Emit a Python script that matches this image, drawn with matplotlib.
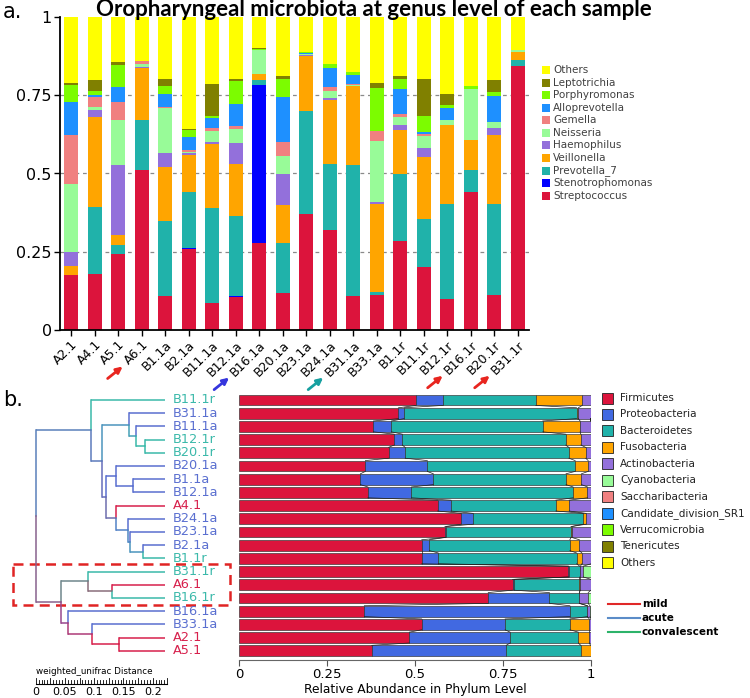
import matplotlib
matplotlib.use("Agg")
import matplotlib.pyplot as plt
import numpy as np
from matplotlib.patches import Rectangle
from matplotlib.colors import to_rgb

W, H = 750, 698

# ---------------- panel a: genus level, one bar per sample ----------------
samples_a = ["A2.1", "A4.1", "A5.1", "A6.1", "B1.1a", "B2.1a", "B11.1a", "B12.1a", "B16.1a",
             "B20.1a", "B23.1a", "B24.1a", "B31.1a", "B33.1a", "B1.1r", "B11.1r", "B12.1r",
             "B16.1r", "B20.1r", "B31.1r"]
genera = ["Streptococcus", "Stenotrophomonas", "Prevotella_7", "Veillonella", "Haemophilus",
          "Neisseria", "Gemella", "Alloprevotella", "Porphyromonas", "Leptotrichia", "Others"]
genus_colors = ["#dc143c", "#0000ff", "#20b2aa", "#ffa500", "#9370db", "#98fb98",
                "#f08080", "#1e90ff", "#7cfc00", "#808000", "#ffff00"]

streptococcus = [.176, .179, .242, .510, .109, .258, .085, .107, .279, .117, .371, .320, .110, .112, .284, .200, .099, .442, .113, .845]
stenotrophomonas = [0, 0, 0, 0, 0, .004, 0, .003, .505, 0, 0, 0, 0, 0, 0, 0, 0, 0, 0, 0]
prevotella_7 = [0, .215, .030, .160, .240, .178, .304, .255, .016, .162, .330, .211, .416, .011, .213, .155, .304, .068, .290, .019]
veillonella = [.030, .288, .032, .167, .173, .120, .206, .166, .019, .121, .175, .205, .252, .280, .143, .199, .253, .096, .221, .024]
haemophilus = [.044, .022, .224, .004, .045, .005, .005, .066, 0, .098, .002, .005, .002, .007, .016, .027, 0, 0, .021, 0]
neisseria = [.217, .010, .142, .008, .141, .005, .036, .045, .077, .058, .004, .021, .003, .195, .024, .039, .016, .165, .018, .005]
gemella = [.157, .032, .060, .010, .006, .005, .009, .010, 0, .046, 0, .014, .003, .032, .010, .005, 0, 0, 0, 0]
alloprevotella = [.106, .004, .046, 0, .040, .043, .031, .071, 0, .142, .002, .061, .030, 0, .080, .009, .037, 0, .085, 0]
porphyromonas = [.054, .015, .072, .002, .026, .020, .007, .073, .002, .059, .003, .014, .008, .135, .033, .050, .009, .007, .013, 0]
leptotrichia = [.006, .035, .007, 0, .023, .005, .103, .007, .004, .009, 0, 0, 0, .016, .009, .119, .036, 0, .039, 0]
others_a = [.210, .200, .145, .139, .197, .357, .214, .197, .098, .188, .113, .149, .176, .212, .188, .197, .246, .222, .200, .107]

# samples marked with an arrow under panel a
arrow_samples = ["A6.1", "B16.1a", "B31.1a", "B16.1r", "B31.1r"]
arrow_colors = ["#e8251f", "#3535dd", "#17a0a0", "#e8251f", "#e8251f"]

# ---------------- panel b: phylum level, rows in dendrogram order ----------------
rows_b = ["B11.1r", "B31.1a", "B11.1a", "B12.1r", "B20.1r", "B20.1a", "B1.1a", "B12.1a", "A4.1",
          "B24.1a", "B23.1a", "B2.1a", "B1.1r", "B31.1r", "A6.1", "B16.1r", "B16.1a", "B33.1a",
          "A2.1", "A5.1"]
phyla = ["Firmicutes", "Proteobacteria", "Bacteroidetes", "Fusobacteria", "Actinobacteria",
         "Cyanobacteria", "Saccharibacteria", "Candidate_division_SR1", "Verrucomicrobia",
         "Tenericutes", "Others"]
phylum_colors = ["#dc143c", "#4169e1", "#20b2aa", "#ffa500", "#9370db", "#98fb98",
                 "#f08080", "#1e90ff", "#7cfc00", "#808000", "#ffff00"]

firmicutes = [.503, .453, .382, .441, .425, .359, .345, .366, .564, .631, .585, .519, .519, .935, .777, .708, .356, .519, .484, .377]
proteobacteria = [.077, .016, .051, .023, .047, .176, .207, .124, .038, .034, .003, .022, .047, .002, .005, .174, .584, .237, .286, .382]
bacteroidetes = [.263, .490, .430, .464, .465, .420, .377, .459, .298, .313, .355, .399, .393, .031, .185, .085, .050, .184, .194, .212]
fusobacteria = [.132, .005, .106, .043, .048, .037, .044, .041, .038, .008, .002, .027, .015, .002, .003, 0, 0, .055, .031, .028]
actinobacteria = [.024, .035, .031, .029, .015, .008, .027, .010, .062, .014, .055, .033, .026, .008, .030, .025, .007, .005, .005, .001]
cyanobacteria = [0, 0, 0, 0, 0, 0, 0, 0, 0, 0, 0, 0, 0, .022, 0, .008, .003, 0, 0, 0]
saccharibacteria = [0] * 20
candidate_sr1 = [0] * 20
verrucomicrobia = [0] * 20
tenericutes = [0] * 20
others_b = [.001, .001, 0, 0, 0, 0, 0, 0, 0, 0, 0, 0, 0, 0, 0, 0, 0, 0, 0, 0]

# weighted_unifrac tree: (node, child, child, distance from root)
merges = [
    ("F", "B12.1r", "B20.1r", 0.186),
    ("E", "B11.1a", "F", 0.171),
    ("C", "B31.1a", "E", 0.160),
    ("K", "B1.1a", "B12.1a", 0.167),
    ("H", "B20.1a", "K", 0.138),
    ("N", "B2.1a", "B1.1r", 0.183),
    ("M", "B23.1a", "N", 0.161),
    ("L", "B24.1a", "M", 0.158),
    ("I", "A4.1", "L", 0.138),
    ("G", "H", "I", 0.120),
    ("B", "C", "G", 0.113),
    ("A", "B11.1r", "B", 0.094),
    ("S", "A6.1", "B16.1r", 0.130),
    ("Q", "B31.1r", "S", 0.090),
    ("U", "A2.1", "A5.1", 0.143),
    ("T", "B33.1a", "U", 0.097),
    ("R", "B16.1a", "T", 0.056),
    ("P", "Q", "R", 0.044),
    ("root", "A", "P", 0.0),
]
leaf_dist = 0.221
group_colors = {"mild": "#d7204c", "acute": "#5a6fd0", "convalescent": "#3bb9aa"}
legend_lines = {"mild": "#e02828", "acute": "#5b8cc8", "convalescent": "#2cb36a"}


def group_of(name):
    if name.startswith("A"):
        return "mild"
    return "acute" if name.endswith("a") else "convalescent"


def fpx(x, y):
    """pixel position (from top left) -> figure fraction"""
    return x / W, 1 - y / H


fig = plt.figure(figsize=(W / 100, H / 100), dpi=100)

# ===== panel a =====
ax = fig.add_axes([60 / W, 1 - 330 / H, 469 / W, 313 / H])
x = np.arange(len(samples_a))
series_a = [streptococcus, stenotrophomonas, prevotella_7, veillonella, haemophilus, neisseria,
            gemella, alloprevotella, porphyromonas, leptotrichia, others_a]
bottom = np.zeros(len(samples_a))
for vals, col in zip(series_a, genus_colors):
    ax.bar(x, vals, bottom=bottom, width=0.6, color=col, zorder=2)
    bottom += np.array(vals)
for g in [0.25, 0.5, 0.75]:
    ax.axhline(g, color="#8a8a8a", lw=0.9, ls=(0, (3, 3)), zorder=0)
ax.set_xlim(-0.47, 19.47)
ax.set_ylim(0, 1)
ax.set_yticks([0, 0.25, 0.5, 0.75, 1])
ax.set_yticklabels(["0", "0.25", "0.5", "0.75", "1"], fontsize=11.5)
ax.set_xticks(x)
ax.set_xticklabels(samples_a, rotation=45, ha="right", va="top", rotation_mode="anchor", fontsize=9)
ax.tick_params(length=4, width=1, color="black", pad=2)
for s in ["top", "right"]:
    ax.spines[s].set_visible(False)
for s in ["left", "bottom"]:
    ax.spines[s].set_linewidth(1.3)

fig.text(*fpx(374, 10), "Oropharyngeal microbiota at genus level of each sample",
         ha="center", va="center", fontsize=16, fontweight="bold", family="Lato")
fig.text(*fpx(3, 12), "a.", ha="left", va="center", fontsize=15)
fig.text(*fpx(3, 400), "b.", ha="left", va="center", fontsize=15)

# genus legend
for i, (name, col) in enumerate(zip(genera[::-1], genus_colors[::-1])):
    yc = 70 + 12.57 * i
    x0, y0 = fpx(542, yc + 4)
    fig.add_artist(Rectangle((x0, y0), 8 / W, 8 / H, transform=fig.transFigure,
                             facecolor=col, edgecolor="none"))
    fig.text(*fpx(553, yc), name, ha="left", va="center", fontsize=7.5, color="#404040")

# ===== panel b: stacked phylum bars =====
axb = fig.add_axes([239 / W, 1 - 660 / H, 352 / W, 266.6 / H])
series_b = [firmicutes, proteobacteria, bacteroidetes, fusobacteria, actinobacteria, cyanobacteria,
            saccharibacteria, candidate_sr1, verrucomicrobia, tenericutes, others_b]
rows = np.arange(len(rows_b))
h = 0.82
left = np.zeros(len(rows_b))
bounds = []
for vals, col in zip(series_b, phylum_colors):
    axb.barh(rows, vals, left=left, height=h, color=col, edgecolor="#303030", linewidth=0.45)
    left += np.array(vals)
    bounds.append(left.copy())
# thin connectors between the boundaries of neighbouring rows
for b in bounds[:-1]:
    for k in range(len(rows_b) - 1):
        axb.plot([b[k], b[k + 1]], [k + h / 2, k + 1 - h / 2], color="#202020", lw=0.5)
axb.set_xlim(0, 1)
axb.set_ylim(19.7, -0.5)
axb.set_yticks([])
axb.set_xticks([0, 0.25, 0.5, 0.75, 1])
axb.set_xticklabels(["0", "0.25", "0.5", "0.75", "1"], fontsize=9.5)
axb.tick_params(axis="x", length=4, color="#555555", pad=2)
axb.set_xlabel("Relative Abundance in Phylum Level", fontsize=8.8, labelpad=1)
for s in ["top", "right", "left"]:
    axb.spines[s].set_visible(False)
axb.spines["bottom"].set_color("#666666")

# phylum legend
for i, (name, col) in enumerate(zip(phyla, phylum_colors)):
    yc = 398 + 16.47 * i
    x0, y0 = fpx(602, yc + 5.5)
    fig.add_artist(Rectangle((x0, y0), 11 / W, 11 / H, transform=fig.transFigure,
                             facecolor=col, edgecolor="#222222", lw=0.6))
    fig.text(*fpx(620, yc), name, ha="left", va="center", fontsize=7.5, color="#222222")

for i, (name, col) in enumerate(legend_lines.items()):
    yc = 604 + 14 * i
    xa, ya = fpx(608, yc)
    xb, _ = fpx(640, yc)
    fig.add_artist(plt.Line2D([xa, xb], [ya, ya], transform=fig.transFigure, color=col, lw=1.5))
    fig.text(*fpx(642, yc), name, ha="left", va="center", fontsize=7.5, fontweight="bold")

# ===== panel b: dendrogram =====
axd = fig.add_axes([0, 0, 239 / W, 1 - 393.4 / H])
axd.set_xlim(-0.061, 0.3475)
axd.set_ylim(22.58, -0.5)
axd.axis("off")

pos = {}
for i, name in enumerate(rows_b):
    col = group_colors[group_of(name)]
    pos[name] = (leaf_dist, i, np.array(to_rgb(col)), 1)
    axd.text(0.234, i, name, ha="left", va="center", fontsize=9.3, color=col)
for node, a, b, d in merges:
    xa, ya, ca, na = pos[a]
    xb, yb, cb, nb = pos[b]
    ym = (ya + yb) / 2
    axd.plot([d, xa], [ya, ya], color=ca, lw=1.1, solid_capstyle="butt")
    axd.plot([d, xb], [yb, yb], color=cb, lw=1.1, solid_capstyle="butt")
    axd.plot([d, d], [ya, ym], color=ca, lw=1.1)
    axd.plot([d, d], [ym, yb], color=cb, lw=1.1)
    pos[node] = (d, ym, (ca * na + cb * nb) / (na + nb), na + nb)

# red dashed box around the cluster of arrowed samples
axd.add_patch(Rectangle((-0.039, 12.4), 0.371, 3.13, fill=False, edgecolor="#e02424",
                        lw=1.8, ls=(0, (4, 2.5)), clip_on=False))

# distance scale bar
ruler_y = 21.5
axd.plot([0, 0.225], [ruler_y, ruler_y], color="black", lw=0.8)
for t in np.arange(0, 0.2251, 0.005):
    tall = abs(t / 0.025 - round(t / 0.025)) < 1e-6
    axd.plot([t, t], [ruler_y, ruler_y - (0.45 if tall else 0.25)], color="black", lw=0.6)
for t, lab in zip([0, 0.05, 0.1, 0.15, 0.2], ["0", "0.05", "0.1", "0.15", "0.2"]):
    axd.text(t, ruler_y + 0.6, lab, ha="center", va="center", fontsize=8)
axd.text(0, 20.6, "weighted_unifrac Distance", ha="left", va="center", fontsize=6.3)

# arrows pointing at the start of selected tick labels
fig.canvas.draw()
labels = {t.get_text(): t for t in ax.get_xticklabels()}
for name, col in zip(arrow_samples, arrow_colors):
    bb = labels[name].get_window_extent()
    tip = (bb.x0 + 1, bb.y0 + 1)
    tail = (bb.x0 - 14, bb.y0 - 11)
    ax.annotate("", xy=tip, xycoords="figure pixels", xytext=tail, textcoords="figure pixels",
                arrowprops=dict(arrowstyle="-|>", color=col, lw=2, mutation_scale=9,
                                shrinkA=0, shrinkB=0))

fig.savefig("out.png", dpi=100)
